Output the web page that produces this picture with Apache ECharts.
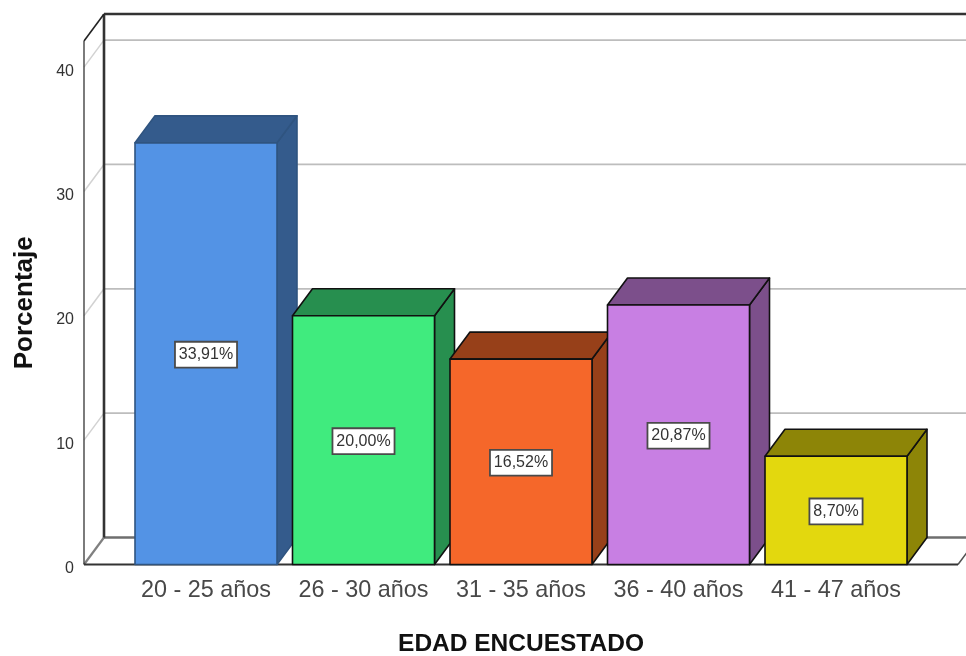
<!DOCTYPE html>
<html>
<head>
<meta charset="utf-8">
<title>Edad encuestado</title>
<style>html,body{margin:0;padding:0;background:#fff}#chart{width:966px;height:656px}</style>
<script src="https://cdn.jsdelivr.net/npm/echarts@6/dist/echarts.min.js"></script>
</head>
<body>
<div id="chart"></div>
<script>
// Age groups and their share of respondents (%)
const categories = ['20 - 25 años', '26 - 30 años', '31 - 35 años', '36 - 40 años', '41 - 47 años'];
const percentages = [33.91, 20.00, 16.52, 20.87, 8.70];
const valueTicks = [0, 10, 20, 30, 40];
const frontColors = ['#5393E5', '#40EB7E', '#F5672A', '#C87FE3', '#E3D80E'];
const sideColors = ['#345B8C', '#278F4F', '#974019', '#7C4F8B', '#8D8507'];
const edgeColors = ['#2F5480', '#111111', '#111111', '#111111', '#111111'];

// Oblique projection of the chart box
const DEPTH_X = 20;
const DEPTH_Y = -27;
const WALL_OVERHANG = 43.25;
const BAR_WIDTH = 142;
const fontFamily = '"Liberation Sans", Arial, sans-serif';

const chart = echarts.init(document.getElementById('chart'), null, { renderer: 'canvas' });

function line(x1, y1, x2, y2, stroke, lineWidth) {
  return { type: 'line', shape: { x1, y1, x2, y2 }, style: { stroke, lineWidth, fill: null } };
}

function renderWalls(params, api) {
  const cs = params.coordSys;
  const left = cs.x - WALL_OVERHANG;
  const right = cs.x + cs.width + WALL_OVERHANG;
  const top = cs.y;
  const bottom = cs.y + cs.height;
  const children = [];
  // Value gridlines running across the side wall and the back wall
  valueTicks.slice(1).forEach(function (t) {
    const y = api.coord([0, t])[1];
    children.push(line(left, y, left + DEPTH_X, y + DEPTH_Y, '#D2D2D2', 1.5));
    children.push(line(left + DEPTH_X, y + DEPTH_Y, right + DEPTH_X, y + DEPTH_Y, '#BDBDBD', 1.8));
  });
  // Floor
  children.push(line(left, bottom, left + DEPTH_X, bottom + DEPTH_Y, '#808080', 2.2));
  children.push(line(left + DEPTH_X, bottom + DEPTH_Y, right + DEPTH_X, bottom + DEPTH_Y, '#6E6E6E', 2.4));
  children.push(line(right, bottom, right + DEPTH_X, bottom + DEPTH_Y, '#505050', 1.5));
  // Box outline
  children.push(line(left + DEPTH_X, top + DEPTH_Y, left + DEPTH_X, bottom + DEPTH_Y, '#333333', 2.6));
  children.push(line(left + DEPTH_X, top + DEPTH_Y, right + DEPTH_X, top + DEPTH_Y, '#333333', 2.6));
  children.push(line(left, top, left + DEPTH_X, top + DEPTH_Y, '#222222', 1.6));
  children.push(line(left, top, left, bottom, '#444444', 1.4));
  children.push(line(left, bottom, right, bottom, '#333333', 2.2));
  return { type: 'group', children };
}

function renderBar(params, api) {
  const i = api.value(0);
  const v = api.value(1);
  const base = api.coord([i, 0]);
  const tip = api.coord([i, v]);
  const x0 = base[0] - BAR_WIDTH / 2;
  const x1 = base[0] + BAR_WIDTH / 2;
  const y0 = base[1];
  const y1 = tip[1];
  const edge = { stroke: edgeColors[i], lineWidth: 1.6, lineJoin: 'round' };
  const label = v.toFixed(2).replace('.', ',') + '%';
  return {
    type: 'group',
    children: [
      {
        type: 'polygon',
        shape: { points: [[x1, y0], [x1 + DEPTH_X, y0 + DEPTH_Y], [x1 + DEPTH_X, y1 + DEPTH_Y], [x1, y1]] },
        style: Object.assign({ fill: sideColors[i] }, edge)
      },
      {
        type: 'polygon',
        shape: { points: [[x0, y1], [x0 + DEPTH_X, y1 + DEPTH_Y], [x1 + DEPTH_X, y1 + DEPTH_Y], [x1, y1]] },
        style: Object.assign({ fill: sideColors[i] }, edge)
      },
      {
        type: 'rect',
        shape: { x: x0, y: y1, width: BAR_WIDTH, height: y0 - y1 },
        style: Object.assign({ fill: frontColors[i] }, edge)
      },
      {
        type: 'text',
        x: base[0],
        y: (y0 + y1) / 2 + 1,
        style: {
          text: label,
          align: 'center',
          verticalAlign: 'middle',
          font: '16px ' + fontFamily,
          fill: '#333333',
          backgroundColor: '#ffffff',
          borderColor: '#4A4A4A',
          borderWidth: 1.8,
          padding: [4, 3, 4, 3]
        }
      }
    ]
  };
}

chart.setOption({
  animation: false,
  backgroundColor: '#ffffff',
  grid: { left: 127.25, width: 787.5, top: 41, height: 523.5, outerBoundsMode: 'none' },
  xAxis: {
    type: 'category',
    data: categories,
    name: 'EDAD ENCUESTADO',
    nameLocation: 'middle',
    nameGap: 67,
    nameTextStyle: { fontFamily, fontSize: 24.5, fontWeight: 'bold', color: '#111111' },
    axisLine: { show: false },
    axisTick: { show: false },
    axisLabel: { interval: 0, fontFamily, fontSize: 23.4, color: '#484848', margin: 15 }
  },
  yAxis: {
    type: 'value',
    min: 0,
    max: 42.1,
    interval: 10,
    offset: 43.25,
    name: 'Porcentaje',
    nameLocation: 'middle',
    nameGap: 46.5,
    nameTextStyle: { fontFamily, fontSize: 26, fontWeight: 'bold', color: '#111111' },
    axisLine: { show: false },
    axisTick: { show: false },
    splitLine: { show: false },
    axisLabel: { fontFamily, fontSize: 16, color: '#333333', margin: 10, showMaxLabel: false, verticalAlign: 'top', lineHeight: 8 }
  },
  series: [
    { type: 'custom', clip: false, z: 1, silent: true, data: [[0, 0]], renderItem: renderWalls },
    { type: 'custom', clip: false, z: 2, silent: true, data: percentages.map((p, i) => [i, p]), encode: { x: 0, y: 1 }, renderItem: renderBar }
  ]
});
</script>
</body>
</html>
